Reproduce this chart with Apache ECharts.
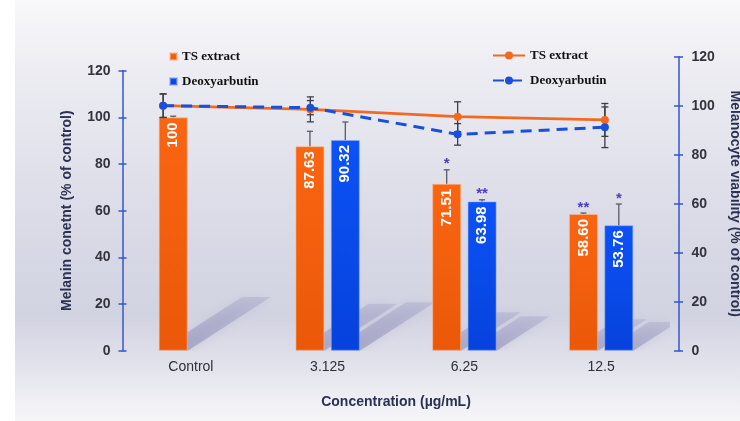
<!DOCTYPE html>
<html>
<head>
<meta charset="utf-8">
<script src="https://cdn.jsdelivr.net/npm/echarts@6/dist/echarts.min.js"></script>
<style>
  html, body { margin: 0; padding: 0; background: #ffffff; }
  #chart { width: 740px; height: 421px; }
</style>
</head>
<body>
<div id="chart"></div>
<script>
// Concentration groups on the x axis
const categories = ['Control', '3.125', '6.25', '12.5'];

// Melanin content (% of control), bars on the left axis
const tsMelanin = [100, 87.63, 71.51, 58.60];
const tsMelaninErr = [0.5, 6.4, 6.0, 0.4];
const dxMelanin = [null, 90.32, 63.98, 53.76];
const dxMelaninErr = [null, 7.7, 0.7, 9.1];

// Significance marks above the bars
const tsSig = ['', '', '*', '**'];
const dxSig = ['', '', '**', '*'];

// Melanocyte viability (% of control), lines on the right axis
const tsViability = [100, 98.5, 95.5, 94.2];
const tsViabilityErr = [4.8, 5.1, 6.1, 6.7];
const dxViability = [100, 99.2, 88.3, 91.2];
const dxViabilityErr = [4.8, 2.9, 4.4, 8.3];

// Axis ticks
const yMin = 0, yMax = 120, yStep = 20;

const AXIS_BLUE = '#3457c9';
const BAR_W = 29;
const BAR_GAP = 0.22;
const OFF = (BAR_W + BAR_W * BAR_GAP) / 2;

const chart = echarts.init(document.getElementById('chart'), null, { renderer: 'canvas' });

function fmt(v) { return v === 100 ? '100' : v.toFixed(2); }

// rows for the helper series: [category index, value, error, side, mark]
const barRows = [];
const shadowRows = [];
categories.forEach((c, i) => {
  if (tsMelanin[i] != null) {
    barRows.push([i, tsMelanin[i], tsMelaninErr[i], -1, tsSig[i]]);
    shadowRows.push([i, tsMelanin[i], -1]);
  }
  if (dxMelanin[i] != null) {
    barRows.push([i, dxMelanin[i], dxMelaninErr[i], 1, dxSig[i]]);
    shadowRows.push([i, dxMelanin[i], 1]);
  }
});
const lineErrRows = [];
categories.forEach((c, i) => {
  lineErrRows.push([i, tsViability[i], tsViabilityErr[i]]);
  lineErrRows.push([i, dxViability[i], dxViabilityErr[i]]);
});

// slanted floor shadow cast by each bar, proportional to its height
function renderBarShadow(params, api) {
  const i = api.value(0), v = api.value(1), side = api.value(2);
  const p0 = api.coord([i, 0]);
  const p1 = api.coord([i, v]);
  const h = p0[1] - p1[1];
  const dy = 0.23 * h;
  const dx = 1.55 * dy;
  const x0 = p0[0] + side * OFF - BAR_W / 2;
  const y0 = p0[1];
  return {
    type: 'polygon',
    shape: { points: [[x0, y0], [x0 + BAR_W, y0], [x0 + BAR_W + dx, y0 - dy], [x0 + dx, y0 - dy]] },
    style: {
      fill: new echarts.graphic.LinearGradient(0, 1, 0, 0, [
        { offset: 0, color: 'rgba(105,105,160,0.40)' },
        { offset: 1, color: 'rgba(120,120,175,0.20)' }
      ]),
      shadowBlur: 10,
      shadowColor: 'rgba(110,110,165,0.45)'
    }
  };
}

function renderBarError(params, api) {
  const i = api.value(0), v = api.value(1), e = api.value(2), side = api.value(3);
  const mark = barRows[params.dataIndex][4];
  const base = api.coord([i, v]);
  const top = api.coord([i, v + e]);
  const x = base[0] + side * OFF;
  const children = [
    { type: 'line', shape: { x1: x, y1: base[1], x2: x, y2: top[1] }, style: { stroke: '#5a5a66', lineWidth: 1.3 } },
    { type: 'line', shape: { x1: x - 3, y1: top[1], x2: x + 3, y2: top[1] }, style: { stroke: '#5a5a66', lineWidth: 1.3 } }
  ];
  if (mark) {
    children.push({
      type: 'text',
      style: {
        text: mark, x: x, y: top[1] + 2,
        align: 'center', verticalAlign: 'bottom',
        fill: '#4b3fb8', font: 'bold 15px "Liberation Sans", Arial, sans-serif'
      }
    });
  }
  return { type: 'group', children: children };
}

function renderLineError(params, api) {
  const i = api.value(0), v = api.value(1), e = api.value(2);
  const hi = api.coord([i, v + e]);
  const lo = api.coord([i, v - e]);
  const x = hi[0];
  const st = { stroke: '#3c3c46', lineWidth: 1.3 };
  return {
    type: 'group',
    children: [
      { type: 'line', shape: { x1: x, y1: hi[1], x2: x, y2: lo[1] }, style: st },
      { type: 'line', shape: { x1: x - 3.5, y1: hi[1], x2: x + 3.5, y2: hi[1] }, style: st },
      { type: 'line', shape: { x1: x - 3.5, y1: lo[1], x2: x + 3.5, y2: lo[1] }, style: st }
    ]
  };
}

const tickFont = { color: '#33333d', fontSize: 14, fontWeight: 'bold', fontFamily: '"Liberation Sans", Arial, sans-serif' };
const nameFont = { color: '#2a3152', fontSize: 14, fontWeight: 'bold', fontFamily: '"Liberation Sans", Arial, sans-serif' };
const legendFont = { color: '#111', fontSize: 13, fontWeight: 'bold', fontFamily: '"Liberation Serif", "Times New Roman", serif' };

function valueAxis(extra) {
  return Object.assign({
    type: 'value', min: yMin, max: yMax, interval: yStep,
    splitLine: { show: false }
  }, extra);
}

const option = {
  animation: false,
  graphic: [{
    type: 'rect', z: -10, silent: true,
    shape: { x: 15, y: 0, width: 725, height: 421 },
    style: {
      fill: new echarts.graphic.LinearGradient(0, 0, 0, 1, [
        { offset: 0, color: '#f9f9fb' },
        { offset: 0.15, color: '#ededf3' },
        { offset: 0.55, color: '#d9dae6' },
        { offset: 0.75, color: '#d2d3e1' },
        { offset: 0.88, color: '#e4e4ed' },
        { offset: 1, color: '#f6f6f9' }
      ])
    }
  }],
  legend: [{
    data: ['TS extract', 'Deoxyarbutin'],
    orient: 'vertical', left: 164, top: 45,
    icon: 'rect', itemWidth: 7, itemHeight: 7, itemGap: 12,
    selectedMode: false,
    textStyle: legendFont
  }, {
    data: ['TS extract ', 'Deoxyarbutin '],
    orient: 'vertical', left: 487, top: 44,
    itemWidth: 32, itemHeight: 10, itemGap: 12,
    selectedMode: false,
    formatter: n => n.trim(),
    textStyle: legendFont
  }],
  grid: [
    { left: 122.5, right: 70.5, top: 70.7, bottom: 70.3, outerBoundsMode: 'none' },
    { left: 89.5, right: 61.5, top: 56.7, bottom: 70.3, outerBoundsMode: 'none' }
  ],
  xAxis: [{
    type: 'category', gridIndex: 0, data: categories,
    axisLine: { show: false }, axisTick: { show: false },
    axisLabel: Object.assign({ margin: 9 }, tickFont, { fontWeight: 'normal', color: '#2f2f3a' }),
    name: 'Concentration (\u00b5g/mL)', nameLocation: 'middle', nameGap: 44,
    nameTextStyle: nameFont
  }, {
    type: 'category', gridIndex: 1, data: categories,
    show: false
  }],
  yAxis: [
    valueAxis({
      gridIndex: 0, position: 'left',
      axisLine: { show: true, lineStyle: { color: AXIS_BLUE, width: 1.5 } },
      axisTick: { show: true, length: 4, lineStyle: { color: AXIS_BLUE, width: 1.5 } },
      axisLabel: Object.assign({ margin: 12 }, tickFont),
      name: 'Melanin conetnt (% of control)', nameLocation: 'middle', nameGap: 48,
      nameTextStyle: nameFont
    }),
    valueAxis({
      gridIndex: 0, position: 'left',
      axisLine: { show: false },
      axisTick: { show: true, inside: true, length: 4, lineStyle: { color: AXIS_BLUE, width: 1.5 } },
      axisLabel: { show: false }
    }),
    valueAxis({
      gridIndex: 1, position: 'right',
      axisLine: { show: true, lineStyle: { color: AXIS_BLUE, width: 1.5 } },
      axisTick: { show: true, length: 4.5, lineStyle: { color: AXIS_BLUE, width: 1.5 } },
      axisLabel: Object.assign({ margin: 13 }, tickFont),
      name: 'Melanocyte viability (% of control)', nameLocation: 'middle', nameGap: 49, nameRotate: -90,
      nameTextStyle: nameFont
    }),
    valueAxis({
      gridIndex: 1, position: 'right',
      axisLine: { show: false },
      axisTick: { show: true, inside: true, length: 4.5, lineStyle: { color: AXIS_BLUE, width: 1.5 } },
      axisLabel: { show: false }
    })
  ],
  series: [
    {
      type: 'custom', name: 'shadow', xAxisIndex: 0, yAxisIndex: 0, z: 1, clip: true,
      renderItem: renderBarShadow, data: shadowRows, silent: true
    },
    {
      type: 'bar', name: 'TS extract', xAxisIndex: 0, yAxisIndex: 0, z: 2,
      data: tsMelanin, barWidth: BAR_W, barGap: (BAR_GAP * 100) + '%',
      itemStyle: {
        color: new echarts.graphic.LinearGradient(0, 0, 0, 1, [
          { offset: 0, color: '#fa6512' }, { offset: 1, color: '#ea5808' }
        ]),
        borderColor: 'rgba(255,190,150,0.55)', borderWidth: 1
      },
      label: {
        show: true, position: 'insideTop', distance: 5, rotate: 90,
        align: 'right', verticalAlign: 'middle',
        formatter: p => fmt(p.value),
        color: '#ffffff', fontSize: 15, fontWeight: 'bold', fontFamily: '"Liberation Sans", Arial, sans-serif'
      }
    },
    {
      type: 'bar', name: 'Deoxyarbutin', xAxisIndex: 0, yAxisIndex: 0, z: 2,
      data: dxMelanin, barWidth: BAR_W, barGap: (BAR_GAP * 100) + '%',
      itemStyle: {
        color: new echarts.graphic.LinearGradient(0, 0, 0, 1, [
          { offset: 0, color: '#0c52f6' }, { offset: 1, color: '#0642dc' }
        ]),
        borderColor: 'rgba(140,170,255,0.55)', borderWidth: 1
      },
      label: {
        show: true, position: 'insideTop', distance: 5, rotate: 90,
        align: 'right', verticalAlign: 'middle',
        formatter: p => fmt(p.value),
        color: '#ffffff', fontSize: 15, fontWeight: 'bold', fontFamily: '"Liberation Sans", Arial, sans-serif'
      }
    },
    {
      type: 'custom', name: 'bar error', xAxisIndex: 0, yAxisIndex: 0, z: 3,
      renderItem: renderBarError, data: barRows, silent: true
    },
    {
      type: 'custom', name: 'line error', xAxisIndex: 1, yAxisIndex: 2, z: 4,
      renderItem: renderLineError, data: lineErrRows, silent: true
    },
    {
      type: 'line', name: 'TS extract ', xAxisIndex: 1, yAxisIndex: 2, z: 5,
      data: tsViability, symbol: 'circle', symbolSize: 8,
      lineStyle: { color: '#f26a22', width: 2.8 },
      itemStyle: { color: '#f26a22' }
    },
    {
      type: 'line', name: 'Deoxyarbutin ', xAxisIndex: 1, yAxisIndex: 2, z: 6,
      data: dxViability, symbol: 'circle', symbolSize: 8,
      lineStyle: { color: '#1a4fd8', width: 3, type: [11, 7] },
      itemStyle: { color: '#1a4fd8' }
    }
  ]
};

chart.setOption(option);
</script>
</body>
</html>
